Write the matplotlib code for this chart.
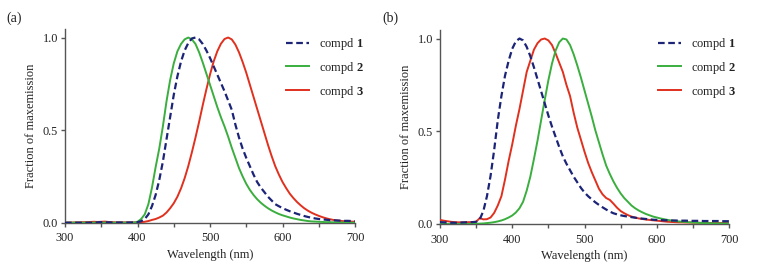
import matplotlib
matplotlib.use("Agg")
import matplotlib.pyplot as plt

plt.rcParams['font.family'] = ['Liberation Serif', 'DejaVu Serif']
plt.rcParams['mathtext.fontset'] = 'custom'
plt.rcParams['mathtext.rm'] = 'Liberation Serif'
plt.rcParams['mathtext.bf'] = 'Liberation Serif:bold'

wavelength = list(range(300, 701, 5))
labels = ["compd $\\mathbf{1}$", "compd $\\mathbf{2}$", "compd $\\mathbf{3}$"]
x_ticks = [300, 400, 500, 600, 700]
y_ticks = [0.0, 0.5, 1.0]
y_ticklabels = ["0.0", "0.5", "1.0"]

# Panel (a)
a_compd1 = [0, 0, 0, 0, 0, 0, 0, 0, 0, 0.002,
            0.003, 0.002, 0.002, 0.001, 0.001, 0.001, 0.001, 0.001, 0.001, 0.002,
            0.003, 0.008, 0.02, 0.045, 0.09, 0.15, 0.23, 0.33, 0.45, 0.57,
            0.69, 0.79, 0.87, 0.93, 0.97, 0.995, 1.0, 0.99, 0.965, 0.93,
            0.89, 0.845, 0.80, 0.755, 0.71, 0.66, 0.61, 0.53, 0.46, 0.40,
            0.35, 0.305, 0.26, 0.22, 0.19, 0.165, 0.14, 0.12, 0.10, 0.089,
            0.079, 0.07, 0.062, 0.055, 0.048, 0.042, 0.036, 0.031, 0.027, 0.023,
            0.02, 0.018, 0.016, 0.014, 0.013, 0.012, 0.011, 0.01, 0.01, 0.009,
            0.008]
a_compd2 = [0, 0, 0, 0, 0, 0, 0, 0, 0, 0,
            0, 0, 0, 0, 0, 0, 0, 0, 0, 0,
            0.005, 0.02, 0.045, 0.1, 0.19, 0.3, 0.4, 0.52, 0.655, 0.77,
            0.86, 0.925, 0.965, 0.99, 1.0, 0.99, 0.965, 0.92, 0.865, 0.805,
            0.745, 0.685, 0.625, 0.57, 0.52, 0.465, 0.405, 0.35, 0.295, 0.25,
            0.21, 0.177, 0.15, 0.127, 0.108, 0.092, 0.078, 0.066, 0.056, 0.047,
            0.04, 0.034, 0.028, 0.023, 0.019, 0.015, 0.012, 0.009, 0.007, 0.006,
            0.005, 0.004, 0.003, 0.003, 0.002, 0.002, 0.001, 0.001, 0.001, 0,
            0]
a_compd3 = [0, 0.001, 0.001, 0.002, 0.002, 0.003, 0.003, 0.004, 0.005, 0.004,
            0.005, 0.006, 0.004, 0.003, 0.002, 0.002, 0.002, 0.002, 0.002, 0.002,
            0.002, 0.003, 0.005, 0.009, 0.015, 0.02, 0.028, 0.038, 0.055, 0.078,
            0.105, 0.14, 0.185, 0.24, 0.305, 0.38, 0.46, 0.545, 0.635, 0.72,
            0.80, 0.87, 0.925, 0.966, 0.992, 1.0, 0.99, 0.962, 0.92, 0.868,
            0.81, 0.745, 0.68, 0.615, 0.55, 0.485, 0.42, 0.36, 0.305, 0.26,
            0.22, 0.187, 0.157, 0.133, 0.112, 0.094, 0.078, 0.065, 0.054, 0.045,
            0.037, 0.03, 0.024, 0.019, 0.015, 0.012, 0.01, 0.008, 0.007, 0.006,
            0.005]

# Panel (b)
b_compd1 = [0.01, 0.009, 0.008, 0.007, 0.007, 0.007, 0.008, 0.009, 0.01, 0.01,
            0.012, 0.025, 0.07, 0.15, 0.26, 0.40, 0.56, 0.69, 0.80, 0.88,
            0.945, 0.985, 1.0, 0.99, 0.955, 0.905, 0.845, 0.78, 0.715, 0.65,
            0.585, 0.525, 0.47, 0.415, 0.365, 0.325, 0.29, 0.255, 0.225, 0.195,
            0.17, 0.15, 0.133, 0.117, 0.103, 0.09, 0.078, 0.067, 0.058, 0.052,
            0.047, 0.043, 0.04, 0.037, 0.034, 0.031, 0.029, 0.027, 0.025, 0.023,
            0.022, 0.021, 0.02, 0.02, 0.019, 0.019, 0.018, 0.018, 0.018, 0.017,
            0.017, 0.017, 0.017, 0.016, 0.016, 0.016, 0.016, 0.016, 0.015, 0.015,
            0.015]
b_compd2 = [0, 0, 0, 0, 0, 0, 0, 0, 0, 0.001,
            0.001, 0.002, 0.003, 0.005, 0.007, 0.01, 0.014, 0.019, 0.026, 0.035,
            0.046, 0.062, 0.085, 0.12, 0.18, 0.255, 0.35, 0.45, 0.56, 0.67,
            0.775, 0.865, 0.935, 0.98, 1.0, 0.995, 0.965, 0.915, 0.855, 0.79,
            0.72, 0.65, 0.58, 0.505, 0.44, 0.375, 0.315, 0.27, 0.23, 0.195,
            0.165, 0.14, 0.12, 0.10, 0.085, 0.073, 0.063, 0.054, 0.047, 0.04,
            0.035, 0.03, 0.026, 0.022, 0.019, 0.016, 0.014, 0.012, 0.011, 0.009,
            0.008, 0.007, 0.006, 0.005, 0.005, 0.004, 0.004, 0.003, 0.003, 0.003,
            0.003]
b_compd3 = [0.022, 0.018, 0.015, 0.012, 0.01, 0.009, 0.009, 0.009, 0.01, 0.01,
            0.012, 0.032, 0.025, 0.026, 0.035, 0.06, 0.10, 0.15, 0.24, 0.34,
            0.43, 0.53, 0.62, 0.72, 0.82, 0.88, 0.94, 0.975, 0.995, 1.0,
            0.99, 0.965, 0.92, 0.87, 0.82, 0.75, 0.69, 0.60, 0.52, 0.455,
            0.39, 0.33, 0.28, 0.235, 0.19, 0.16, 0.14, 0.13, 0.11, 0.088,
            0.07, 0.058, 0.048, 0.04, 0.035, 0.03, 0.027, 0.024, 0.022, 0.02,
            0.018, 0.016, 0.014, 0.012, 0.011, 0.01, 0.009, 0.009, 0.008, 0.008,
            0.007, 0.007, 0.006, 0.006, 0.006, 0.005, 0.005, 0.005, 0.005, 0.005,
            0.005]

colors = ["#1c2478", "#3aae3e", "#e0301e"]
text_color = "#222222"
axis_color = "#555555"

fig = plt.figure(figsize=(7.62, 2.76), dpi=100)
axA = fig.add_axes([65/762, 1-222.7/276, 290/762, (222.7-29)/276])
axB = fig.add_axes([440/762, 1-224/276, 289/762, (224-30)/276])

panels = [(axA, [a_compd1, a_compd2, a_compd3], 286/762),
          (axB, [b_compd1, b_compd2, b_compd3], 658/762)]

for ax, series, leg_x in panels:
    l3, = ax.plot(wavelength, series[2], color=colors[2], lw=1.4, zorder=3)
    l2, = ax.plot(wavelength, series[1], color=colors[1], lw=1.4, zorder=3)
    l1, = ax.plot(wavelength, series[0], color=colors[0], lw=1.6,
                  dashes=(3.0, 1.6), zorder=4)
    ax.set_xlim(300, 700)
    ax.set_ylim(0, 1.046)
    ax.set_xticks(x_ticks)
    ax.set_xticks([350, 450, 550, 650], minor=True)
    ax.set_yticks(y_ticks)
    ax.set_yticklabels(y_ticklabels)
    for s in ["top", "right"]:
        ax.spines[s].set_visible(False)
    for s in ["left", "bottom"]:
        ax.spines[s].set_color(axis_color)
        ax.spines[s].set_linewidth(1.0)
    ax.tick_params(axis='both', which='both', direction='out', length=3,
                   width=1.0, color=axis_color, labelsize=8.8,
                   labelcolor=text_color)
    ax.tick_params(axis='x', which='both', pad=4)
    ax.tick_params(axis='y', which='both', pad=2)
    ax.set_xlabel("Wavelength (nm)", fontsize=9, labelpad=3, color=text_color)
    ax.set_ylabel("Fraction of maxemission", fontsize=9, labelpad=4,
                  color=text_color)
    ax.legend([l1, l2, l3], labels, frameon=False, loc="upper left",
              bbox_to_anchor=(leg_x, 1-36/276), bbox_transform=fig.transFigure,
              borderaxespad=0, borderpad=0, fontsize=9,
              handlelength=1.8, labelspacing=0.62, handletextpad=0.85,
              labelcolor=text_color)

fig.text(6/762, 1-18/276, "(a)", fontsize=10, va="center", ha="left",
         color=text_color)
fig.text(382/762, 1-18/276, "(b)", fontsize=10, va="center", ha="left",
         color=text_color)

fig.savefig("out.png", dpi=100)
